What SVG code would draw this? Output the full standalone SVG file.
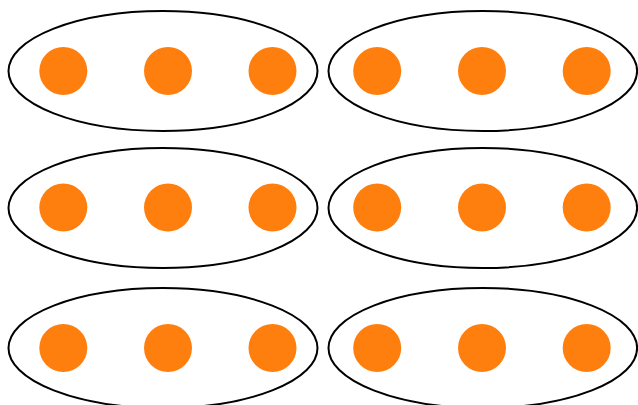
<svg xmlns="http://www.w3.org/2000/svg" width="638" height="405" viewBox="0 0 638 405">
<style>
.grp{fill:none;stroke:#000;stroke-width:2}
.dot{fill:#ff7f0e}
</style>
<rect width="638" height="405" fill="#fff"/>
<g id="group-r1-left"><ellipse class="grp" cx="163" cy="71" rx="154.5" ry="60"/><circle class="dot" cx="63.3" cy="71" r="24"/><circle class="dot" cx="168" cy="71" r="24"/><circle class="dot" cx="272.5" cy="71" r="24"/></g>
<g id="group-r1-right"><ellipse class="grp" cx="482.8" cy="71" rx="154.3" ry="60"/><circle class="dot" cx="377.2" cy="71" r="24"/><circle class="dot" cx="482" cy="71" r="24"/><circle class="dot" cx="586.7" cy="71" r="24"/></g>
<g id="group-r2-left"><ellipse class="grp" cx="163" cy="208" rx="154.5" ry="60"/><circle class="dot" cx="63.3" cy="207.5" r="24"/><circle class="dot" cx="168" cy="207.5" r="24"/><circle class="dot" cx="272.5" cy="207.5" r="24"/></g>
<g id="group-r2-right"><ellipse class="grp" cx="482.8" cy="208" rx="154.3" ry="60"/><circle class="dot" cx="377.2" cy="207.5" r="24"/><circle class="dot" cx="482" cy="207.5" r="24"/><circle class="dot" cx="586.7" cy="207.5" r="24"/></g>
<g id="group-r3-left"><ellipse class="grp" cx="163" cy="348" rx="154.5" ry="60"/><circle class="dot" cx="63.3" cy="348" r="24"/><circle class="dot" cx="168" cy="348" r="24"/><circle class="dot" cx="272.5" cy="348" r="24"/></g>
<g id="group-r3-right"><ellipse class="grp" cx="482.8" cy="348" rx="154.3" ry="60"/><circle class="dot" cx="377.2" cy="348" r="24"/><circle class="dot" cx="482" cy="348" r="24"/><circle class="dot" cx="586.7" cy="348" r="24"/></g>
<g id="connectors"/>
</svg>
